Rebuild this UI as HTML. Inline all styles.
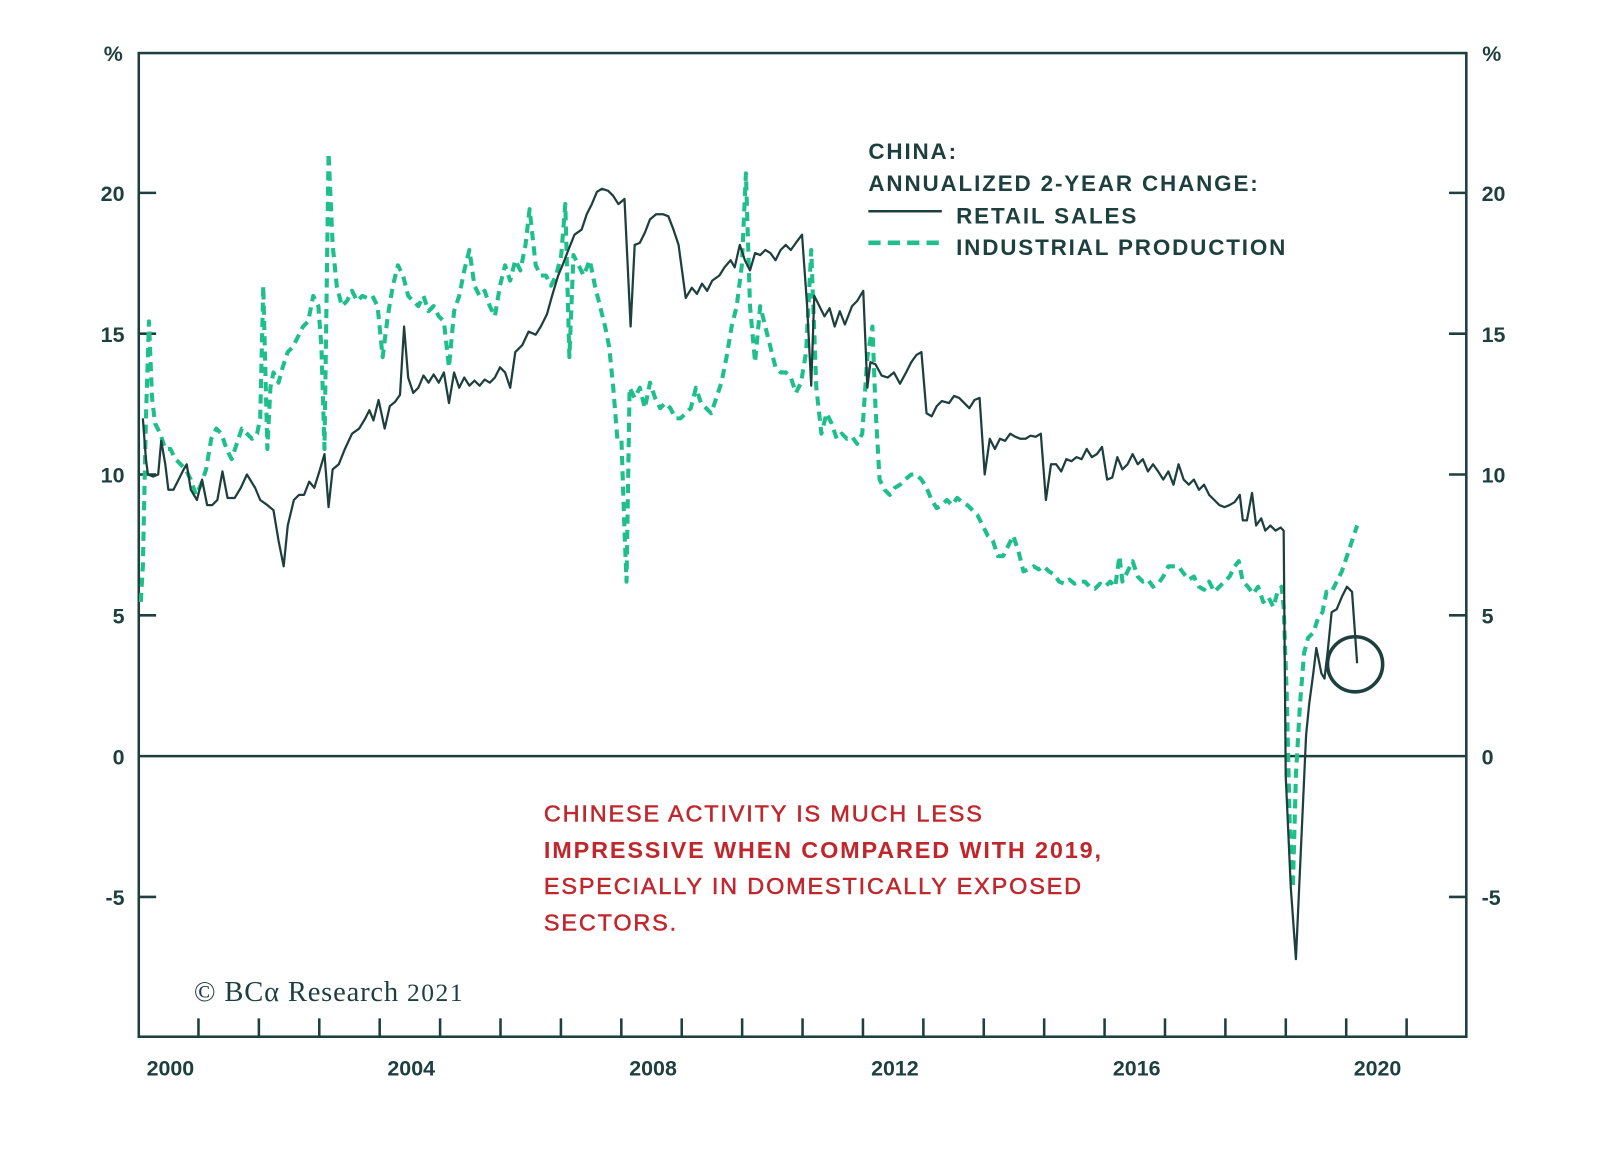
<!DOCTYPE html>
<html><head><meta charset="utf-8"><style>
html,body{margin:0;padding:0;background:#fff;}
svg{display:block}
text{font-family:"Liberation Sans",Arial,sans-serif;}
</style></head><body>
<svg width="1600" height="1151" viewBox="0 0 1600 1151" xmlns="http://www.w3.org/2000/svg">
<rect width="1600" height="1151" fill="#fff"/>
<g transform="scale(1.0204)">
<g fill="#1d3f3d" font-weight="bold" font-size="21">
<text x="111" y="60" text-anchor="middle">%</text>
<text x="1462" y="60" text-anchor="middle">%</text>
<text x="122" y="197" text-anchor="end">20</text>
<text x="122" y="335" text-anchor="end">15</text>
<text x="122" y="473" text-anchor="end">10</text>
<text x="122" y="611" text-anchor="end">5</text>
<text x="122" y="749" text-anchor="end">0</text>
<text x="122" y="887" text-anchor="end">-5</text>
<text x="1452" y="197">20</text>
<text x="1452" y="335">15</text>
<text x="1452" y="473">10</text>
<text x="1452" y="611">5</text>
<text x="1452" y="749">0</text>
<text x="1452" y="887">-5</text>
<text x="167" y="1054" text-anchor="middle">2000</text>
<text x="403" y="1054" text-anchor="middle">2004</text>
<text x="640" y="1054" text-anchor="middle">2008</text>
<text x="877" y="1054" text-anchor="middle">2012</text>
<text x="1114" y="1054" text-anchor="middle">2016</text>
<text x="1350" y="1054" text-anchor="middle">2020</text>
</g>
<g stroke="#1d3f3d" stroke-width="2.5" fill="none">
<rect x="136" y="52" width="1301" height="964"/>
<line x1="136" y1="741" x2="1437" y2="741"/>
<path d="M136 189h17M136 327h17M136 465h17M136 603h17M136 879h17M1437 189h-17M1437 327h-17M1437 465h-17M1437 603h-17M1437 879h-17"/>
<path d="M194.5 1016v-18M253.7 1016v-18M312.9 1016v-18M372.1 1016v-18M431.3 1016v-18M490.5 1016v-18M549.7 1016v-18M608.9 1016v-18M668.1 1016v-18M727.3 1016v-18M786.5 1016v-18M845.7 1016v-18M904.9 1016v-18M964.1 1016v-18M1023.3 1016v-18M1082.5 1016v-18M1141.7 1016v-18M1200.9 1016v-18M1260.1 1016v-18M1319.3 1016v-18M1378.5 1016v-18"/>
</g>
<polyline fill="none" stroke="#1fbf8a" stroke-width="4" stroke-dasharray="9,6" stroke-linejoin="round" points="138,590 140,555 143,410 146,315 149,390 152,415 157,425 162,440 167,440 172,450 177,455 182,460 187,470 192,485 197,475 202,460 207,430 212,420 217,425 222,440 227,450 232,435 237,420 242,425 247,430 252,425 255,410 258,280 262,440 265,380 268,365 273,375 277,360 282,345 287,340 292,330 297,320 302,315 307,290 312,300 315,340 318,440 322,150 326,240 330,280 335,300 340,295 345,285 350,295 355,290 360,292 365,290 370,300 375,350 380,310 385,280 390,260 395,270 400,290 405,295 410,300 415,290 420,305 425,300 430,310 435,315 440,360 445,305 450,290 455,265 460,245 465,280 470,290 475,285 480,300 485,310 490,280 495,260 500,275 505,255 510,265 515,240 519,205 525,260 530,270 535,270 540,280 545,270 550,250 554,200 558,350 562,250 567,260 572,270 578,255 583,280 588,300 593,320 597,340 601,380 605,430 609,430 612,520 614,570 617,380 622,390 627,380 632,400 637,375 642,390 647,400 652,395 657,400 662,410 667,410 672,405 677,400 682,380 687,395 692,400 697,405 702,390 707,375 712,350 717,320 722,300 727,260 731,170 735,300 740,355 745,300 750,320 755,340 760,360 765,365 770,365 775,370 780,385 785,375 790,345 795,245 800,380 805,425 810,405 815,415 820,430 825,425 830,430 835,428 840,435 845,425 850,350 855,320 858,400 862,470 867,480 872,485 877,478 882,475 887,470 893,465 898,465 903,470 908,478 913,490 918,498 923,495 928,490 933,495 938,488 943,492 948,495 953,500 958,505 963,515 968,525 973,530 978,545 983,545 988,535 993,525 998,540 1003,560 1008,558 1013,555 1018,558 1023,555 1028,560 1033,563 1038,570 1043,572 1048,568 1053,572 1058,570 1063,570 1068,575 1073,577 1078,572 1083,575 1088,570 1093,575 1097,545 1100,570 1105,560 1110,550 1115,565 1120,570 1125,568 1130,575 1135,572 1140,565 1145,555 1150,555 1155,555 1160,562 1165,568 1170,565 1175,575 1180,578 1185,570 1190,580 1195,575 1200,570 1205,565 1210,555 1214,550 1218,570 1223,575 1228,582 1233,575 1238,590 1243,585 1248,595 1252,580 1256,575 1258,595 1261,680 1264,810 1267,870 1270,760 1274,690 1278,640 1282,625 1287,620 1292,605 1296,600 1300,580 1305,580 1310,570 1315,560 1320,545 1325,530 1330,515"/>
<polyline fill="none" stroke="#1d3f3d" stroke-width="2.2" stroke-linejoin="round" points="140,410 143,450 145,465 150,467 155,465 158,432 162,455 165,480 170,480 175,470 180,460 183,455 187,480 193,490 198,470 203,495 208,495 213,490 218,462 223,488 230,488 236,478 242,465 250,478 255,490 262,495 268,500 273,530 278,555 282,515 288,490 293,485 298,485 303,472 308,478 313,462 318,445 322,497 326,460 332,455 338,440 345,425 352,420 358,410 362,402 366,412 371,392 377,420 382,398 387,394 392,387 396,320 400,370 405,385 410,380 415,368 420,375 425,367 430,375 435,365 440,395 445,365 450,380 455,370 460,378 465,373 470,378 475,372 480,375 485,370 490,360 495,365 500,380 505,345 512,338 518,325 525,328 530,320 536,308 541,290 547,270 552,258 557,245 563,230 570,225 575,210 580,200 585,188 590,185 596,187 601,192 606,200 612,195 618,320 622,240 627,238 632,228 637,215 643,210 650,210 655,212 660,225 665,240 672,292 678,282 683,288 688,278 693,285 698,275 705,270 710,262 716,255 720,262 725,240 730,255 735,265 740,248 745,250 750,245 755,248 760,255 765,245 770,240 775,245 780,238 786,230 791,300 795,378 798,290 803,300 808,310 813,302 818,320 823,305 828,318 835,300 840,295 846,285 850,380 853,355 858,357 864,368 870,370 876,365 882,376 888,365 893,355 898,348 903,345 908,405 913,408 918,398 923,393 930,395 935,388 940,390 945,395 950,400 955,392 960,390 965,465 970,430 975,440 980,430 985,432 990,425 995,428 1000,430 1005,430 1010,427 1015,428 1020,425 1025,490 1030,455 1035,455 1040,462 1045,450 1050,452 1055,448 1060,450 1065,440 1070,448 1075,445 1080,438 1085,470 1090,468 1095,448 1100,460 1105,455 1110,445 1115,455 1120,450 1125,462 1130,455 1135,462 1140,470 1145,462 1150,475 1155,455 1160,470 1165,475 1170,470 1175,480 1180,475 1185,485 1190,490 1195,495 1200,497 1205,495 1210,492 1215,485 1218,510 1222,510 1227,483 1231,515 1236,508 1240,520 1245,515 1250,520 1255,517 1258,520 1260,760 1265,870 1270,940 1275,830 1280,720 1283,690 1287,660 1290,635 1295,660 1298,665 1301,640 1305,600 1310,597 1315,585 1320,575 1325,580 1330,650"/>
<circle cx="1328" cy="651" r="27" fill="none" stroke="#1d3f3d" stroke-width="3.5"/>
<g fill="#1d3f3d" font-weight="bold" font-size="22" letter-spacing="1.8">
<text x="851" y="156">CHINA:</text>
<text x="851" y="187">ANNUALIZED 2-YEAR CHANGE:</text>
<text x="937" y="219">RETAIL SALES</text>
<text x="937" y="250">INDUSTRIAL PRODUCTION</text>
</g>
<line x1="851" y1="207" x2="923" y2="207" stroke="#1d3f3d" stroke-width="2.5"/>
<line x1="851" y1="238" x2="923" y2="238" stroke="#1fbf8a" stroke-width="4.5" stroke-dasharray="12,7"/>
<g fill="#c0272d" font-size="23" stroke="#c0272d" letter-spacing="1.8">
<text x="533" y="805" stroke-width="0.5">CHINESE ACTIVITY IS MUCH LESS</text>
<text x="533" y="841" font-weight="bold" stroke-width="0">IMPRESSIVE WHEN COMPARED WITH 2019,</text>
<text x="533" y="876" stroke-width="0.5">ESPECIALLY IN DOMESTICALLY EXPOSED</text>
<text x="533" y="912" stroke-width="0.5">SECTORS.</text>
</g>
<text x="190" y="981" fill="#1d3f3d" font-size="28" letter-spacing="0.8" style="font-family:'Liberation Serif',serif">© BCα Research <tspan font-size="25" letter-spacing="1.5">2021</tspan></text>
</g>
</svg>
</body></html>
